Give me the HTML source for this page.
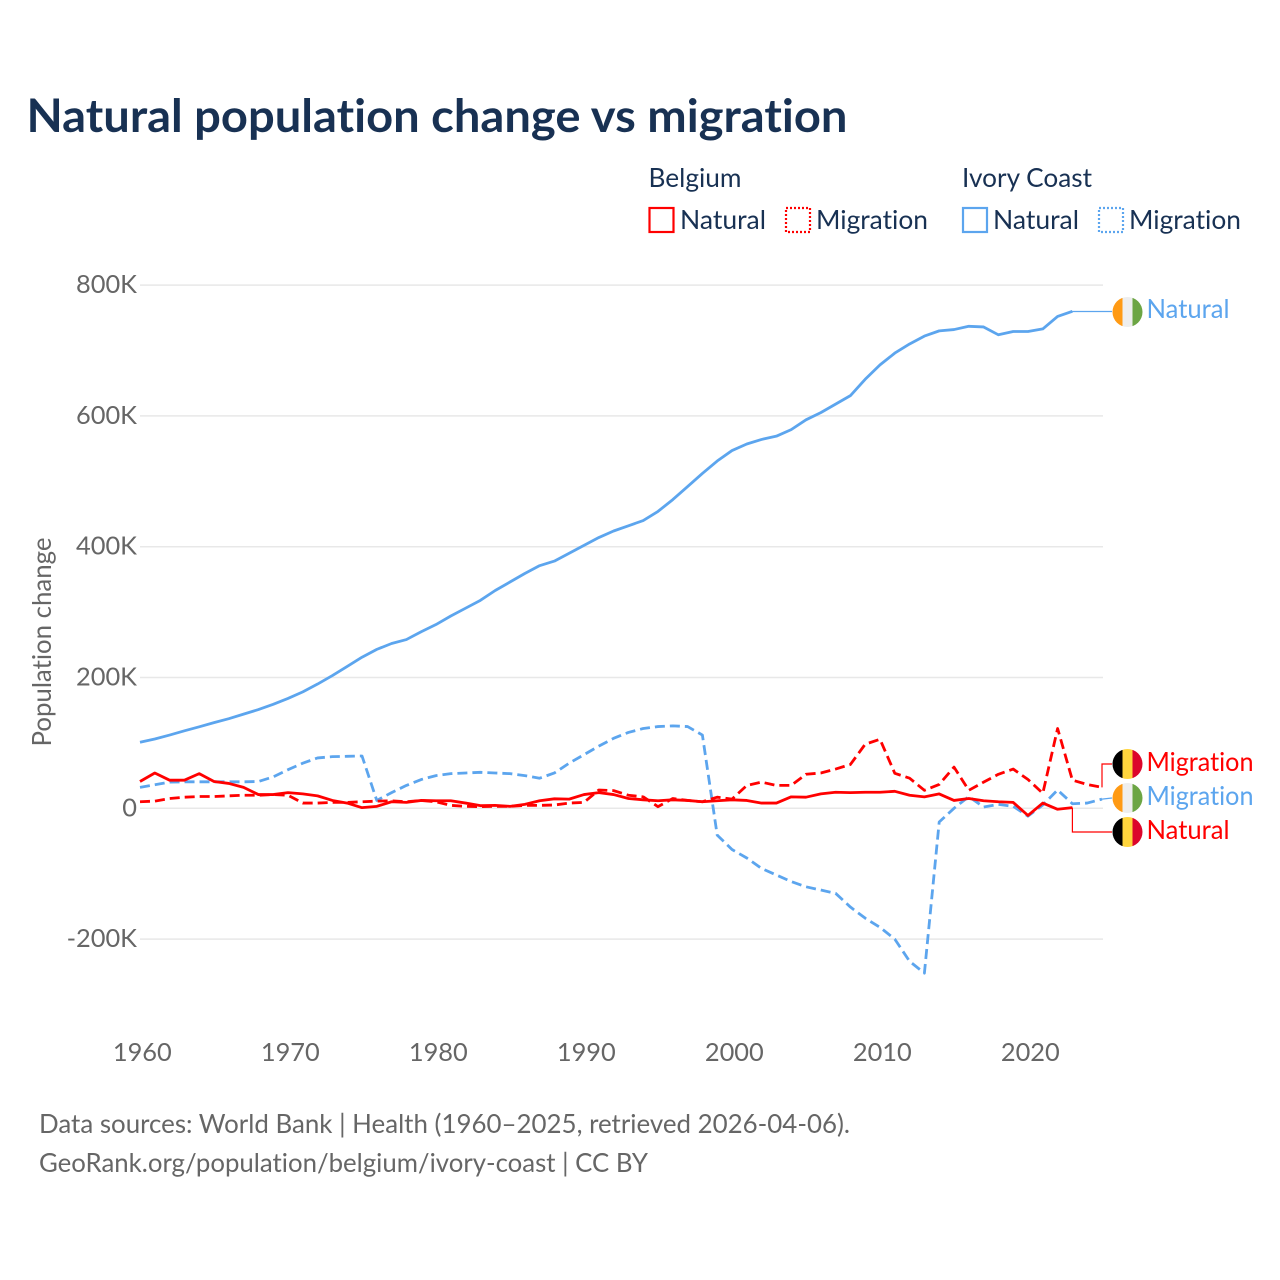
<!DOCTYPE html>
<html lang="en">
<head>
<meta charset="utf-8">
<title>Natural population change vs migration</title>
<style>
html,body{margin:0;padding:0;background:#fff;width:1280px;height:1280px;overflow:hidden}
svg{display:block}
text{font-family:"Lato","Carlito","Liberation Sans",sans-serif;font-variant-ligatures:none;font-feature-settings:"liga" 0,"clig" 0}
</style>
</head>
<body>
<svg id="chart" width="1280" height="1280" viewBox="0 0 1280 1280" xmlns="http://www.w3.org/2000/svg">
  <defs>
    <clipPath id="flag-clip-a"><circle cx="1127.5" cy="312" r="15"/></clipPath>
    <clipPath id="flag-clip-b"><circle cx="1127.5" cy="764" r="15"/></clipPath>
    <clipPath id="flag-clip-c"><circle cx="1127.5" cy="798" r="15"/></clipPath>
    <clipPath id="flag-clip-d"><circle cx="1127.5" cy="832" r="15"/></clipPath>
  </defs>

  <text x="26.5" y="132" font-size="46" font-weight="700" fill="#183153" textLength="821" lengthAdjust="spacingAndGlyphs">Natural population change vs migration</text>

  <g font-size="26" fill="#183153">
    <text x="648.5" y="187" textLength="93" lengthAdjust="spacingAndGlyphs">Belgium</text>
    <text x="962" y="187" textLength="130" lengthAdjust="spacingAndGlyphs">Ivory Coast</text>
    <g>
      <rect x="649.5" y="208" width="24" height="24" fill="none" stroke="#ff0000" stroke-width="2.2"/>
      <text x="680" y="229" textLength="86" lengthAdjust="spacingAndGlyphs">Natural</text>
    </g>
    <g>
      <rect x="786" y="208" width="24" height="24" fill="none" stroke="#ff0000" stroke-width="2.2" stroke-dasharray="2 2"/>
      <text x="816" y="229" textLength="112" lengthAdjust="spacingAndGlyphs">Migration</text>
    </g>
    <g>
      <rect x="963" y="208" width="24" height="24" fill="none" stroke="#5ca5ee" stroke-width="2.2"/>
      <text x="993" y="229" textLength="86" lengthAdjust="spacingAndGlyphs">Natural</text>
    </g>
    <g>
      <rect x="1099" y="208" width="24" height="24" fill="none" stroke="#5ca5ee" stroke-width="2.2" stroke-dasharray="2 2"/>
      <text x="1129" y="229" textLength="112" lengthAdjust="spacingAndGlyphs">Migration</text>
    </g>
  </g>

  <text transform="translate(51 642) rotate(-90)" text-anchor="middle" font-size="26" fill="#666666" textLength="209" lengthAdjust="spacingAndGlyphs">Population change</text>

  <g id="grid"></g>
  <g id="yticks" font-size="25.4" fill="#666666"></g>
  <g id="xticks" font-size="25.4" fill="#666666"></g>
  <g id="connectors"></g>
  <g id="series"></g>

  <g>
    <g clip-path="url(#flag-clip-a)">
      <rect x="1112" y="297" width="10.5" height="30" fill="#ff9a14"/><rect x="1122.5" y="297" width="10" height="30" fill="#eeeeee"/><rect x="1132.5" y="297" width="11" height="30" fill="#6ca544"/>
    </g>
    <text x="1146.5" y="318" font-size="26" fill="#5ca5ee" textLength="83" lengthAdjust="spacingAndGlyphs">Natural</text>
  </g>
  <g>
    <g clip-path="url(#flag-clip-b)">
      <rect x="1112" y="749" width="10.5" height="30" fill="#000000"/><rect x="1122.5" y="749" width="10" height="30" fill="#ffd53d"/><rect x="1132.5" y="749" width="11" height="30" fill="#dc062b"/>
    </g>
    <text x="1146.5" y="771" font-size="26" fill="#ff0000" textLength="107" lengthAdjust="spacingAndGlyphs">Migration</text>
  </g>
  <g>
    <g clip-path="url(#flag-clip-c)">
      <rect x="1112" y="783" width="10.5" height="30" fill="#ff9a14"/><rect x="1122.5" y="783" width="10" height="30" fill="#eeeeee"/><rect x="1132.5" y="783" width="11" height="30" fill="#6ca544"/>
    </g>
    <text x="1146.5" y="805" font-size="26" fill="#5ca5ee" textLength="107" lengthAdjust="spacingAndGlyphs">Migration</text>
  </g>
  <g>
    <g clip-path="url(#flag-clip-d)">
      <rect x="1112" y="817" width="10.5" height="30" fill="#000000"/><rect x="1122.5" y="817" width="10" height="30" fill="#ffd53d"/><rect x="1132.5" y="817" width="11" height="30" fill="#dc062b"/>
    </g>
    <text x="1146.5" y="839" font-size="26" fill="#ff0000" textLength="83" lengthAdjust="spacingAndGlyphs">Natural</text>
  </g>

  <text x="39" y="1133" font-size="26" fill="#666666" textLength="811" lengthAdjust="spacingAndGlyphs">Data sources: World Bank | Health (1960–2025, retrieved 2026-04-06).</text>
  <text x="39" y="1172" font-size="26" fill="#666666" textLength="609" lengthAdjust="spacingAndGlyphs">GeoRank.org/population/belgium/ivory-coast | CC BY</text>
</svg>
<script>
const startYear = 1960;
const yTickValues = [800, 600, 400, 200, 0, -200];
const yTickLabels = ['800K', '600K', '400K', '200K', '0', '-200K'];
const xTickYears = [1960, 1970, 1980, 1990, 2000, 2010, 2020];
const xTickLabels = ['1960', '1970', '1980', '1990', '2000', '2010', '2020'];

const belgiumNatural = [41,54,43,43,53,41,38,32,21,21,24,22,19,12,8,1,3,10,9,12,11.5,11.5,8,4,4.5,3,6,11.5,14.5,14,21,24,21,15,13,11.5,13,12,10,11.5,13,12,8,8,17.5,17,22,24.5,24,24.5,24.5,26,20,17.5,22,12,15,11.5,10,9,-11,8,-1.5,1];
const belgiumMigration = [10,11,15,17,18,18,19,20,20,21,20,8,8,9,9,10,11,11.5,10,12,10,4.5,3,2.5,3,3,4.5,4.5,5,8,9,28,27,20,17.5,2.5,15,12,10,17,14,35,40,35,35,52,54,60,67,98,105.5,53.5,46,27.5,36.5,63,27.5,40,52,60,44,23,122,43,36.5,32];
const ivoryNatural = [101,106,112,118.5,124.6,131,137,144,151,159,168,178,190,203,217,231,243,252,258,270,281,294,306,318,333,346,359,371,378,390,402,414,424,432,440,454,472,492,512,531,547,557,564,569,579,594,605,618,631,656,678,696,710,722,730,732,737,736,724,729,729,733,752,760];
const ivoryMigration = [32,36,40,40.5,40.5,40.5,40.5,40.5,41,48,59,69,77,79,79.5,80,12,24,35,44,50,53,54,55,54,53,50,46,54,69,82,95,107,116,122,125,126,125,112,-41,-63,-76,-92,-102,-112,-120,-125,-130,-151,-168,-182,-200,-234,-252,-21,0,18,2,6,3,-12,5,28,7,8,14];

const NS = 'http://www.w3.org/2000/svg';
const RED = '#ff0000';
const BLUE = '#5ca5ee';

function xScale(year) { return 140 + (year - startYear) * 14.8; }
function yScale(k) { return 808.3 - k * 0.654; }
function xOfIndex(i) { return xScale(startYear + i); }

function linePath(values) {
  return values.map(function (v, i) {
    return (i ? 'L' : 'M') + xOfIndex(i).toFixed(2) + ' ' + yScale(v).toFixed(2);
  }).join(' ');
}

const gridG = document.getElementById('grid');
const yG = document.getElementById('yticks');
yTickValues.forEach(function (v, i) {
  const gl = document.createElementNS(NS, 'line');
  
  
  gl.setAttribute('x1', 140);
  gl.setAttribute('x2', 1103);
  gl.setAttribute('y1', yScale(v));
  gl.setAttribute('y2', yScale(v));
  gl.setAttribute('stroke', '#e8e8e8');
  gl.setAttribute('stroke-width', 1.5);
  gridG.appendChild(gl);

  const t = document.createElementNS(NS, 'text');
  
  
  t.setAttribute('x', 137);
  t.setAttribute('y', yScale(v) + 8);
  t.setAttribute('text-anchor', 'end');
  t.textContent = yTickLabels[i];
  yG.appendChild(t);
});

const xG = document.getElementById('xticks');
xTickYears.forEach(function (yr, i) {
  const t = document.createElementNS(NS, 'text');
  
  
  t.setAttribute('x', xScale(yr) + 2.3);
  t.setAttribute('y', 1061);
  t.setAttribute('text-anchor', 'middle');
  t.textContent = xTickLabels[i];
  xG.appendChild(t);
});

function lastPoint(values) {
  const i = values.length - 1;
  return [xOfIndex(i), yScale(values[i])];
}

const connG = document.getElementById('connectors');
function addConnector(name, values, labelY, color, stepped) {
  const p = lastPoint(values);
  const el = document.createElementNS(NS, 'path');
  
  
  const d = stepped
    ? 'M' + p[0] + ' ' + p[1] + ' V' + labelY + ' H1112'
    : 'M' + p[0] + ' ' + p[1] + ' L1112 ' + labelY;
  el.setAttribute('d', d);
  el.setAttribute('fill', 'none');
  el.setAttribute('stroke', color);
  el.setAttribute('stroke-width', 1.2);
  connG.appendChild(el);
}
addConnector('connector-ivory-natural', ivoryNatural, 311.5, BLUE, true);
addConnector('connector-belgium-migration', belgiumMigration, 764, RED, true);
addConnector('connector-ivory-migration', ivoryMigration, 798, BLUE, false);
addConnector('connector-belgium-natural', belgiumNatural, 832, RED, true);

const seriesG = document.getElementById('series');
function addSeries(name, values, color, dashed) {
  const el = document.createElementNS(NS, 'path');
  
  
  el.setAttribute('d', linePath(values));
  el.setAttribute('fill', 'none');
  el.setAttribute('stroke', color);
  el.setAttribute('stroke-width', 2.8);
  el.setAttribute('stroke-linejoin', 'round');
  if (dashed) el.setAttribute('stroke-dasharray', '10 5');
  seriesG.appendChild(el);
}
addSeries('line-ivory-migration', ivoryMigration, BLUE, true);
addSeries('line-ivory-natural', ivoryNatural, BLUE, false);
addSeries('line-belgium-migration', belgiumMigration, RED, true);
addSeries('line-belgium-natural', belgiumNatural, RED, false);
</script>
</body>
</html>
